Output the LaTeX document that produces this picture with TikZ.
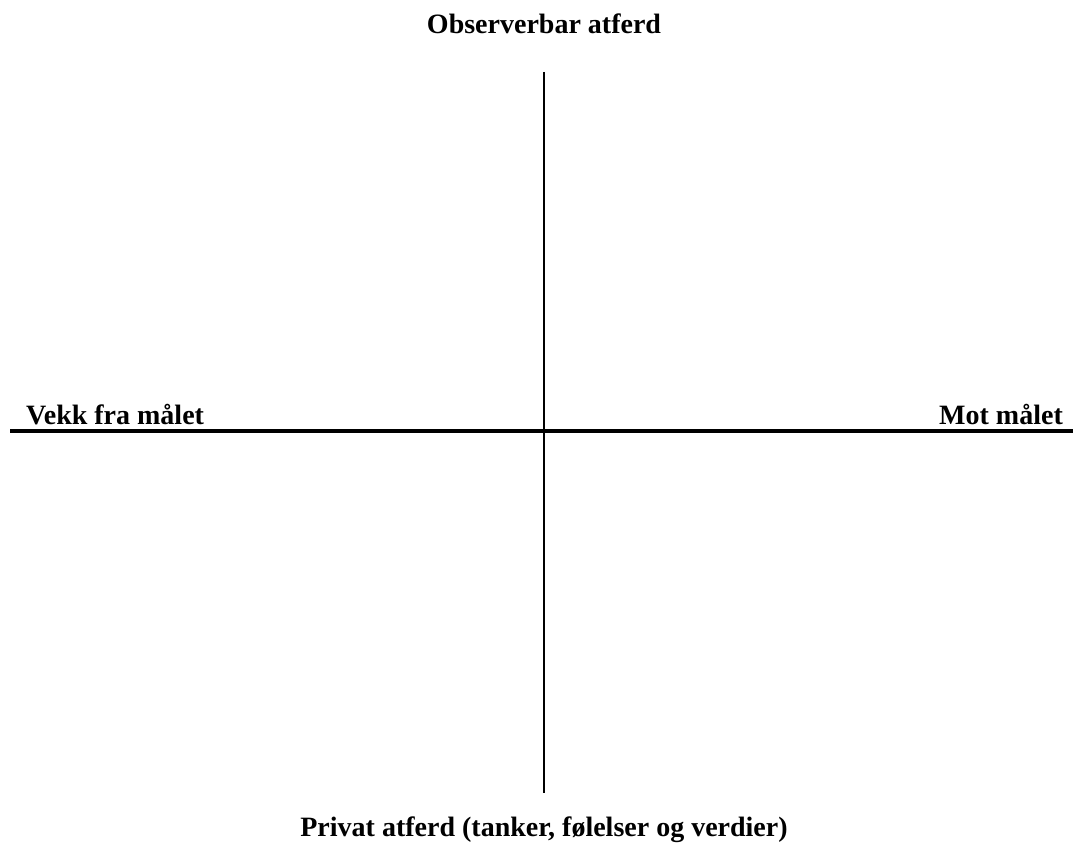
\documentclass[tikz,border=0pt]{standalone}
\usepackage{fontspec}
\setmainfont{Liberation Serif}
\begin{document}
\begin{tikzpicture}[x=1pt,y=-1pt,
  lbl/.style={font=\fontsize{28}{34}\selectfont\bfseries, inner sep=0pt},
  vaxis/.style={line width=2pt},
  haxis/.style={line width=3.6pt}]
\useasboundingbox (0,0) rectangle (1073,858);
\coordinate (top) at (543.5,72);
\coordinate (bot) at (543.5,793);
\coordinate (left) at (10,431);
\coordinate (right) at (1073,431);
\draw[vaxis] (top) -- (bot);
\draw[haxis] (left) -- (right);
\node[lbl, anchor=base] (obs) at (544,34) {Observerbar atferd};
\node[lbl, anchor=base west] (vekk) at (26,424) {Vekk fra målet};
\node[lbl, anchor=base east] (mot) at (1063,424) {Mot målet};
\node[lbl, anchor=base] (priv) at (544,836) {Privat atferd (tanker, følelser og verdier)};
\end{tikzpicture}
\end{document}
